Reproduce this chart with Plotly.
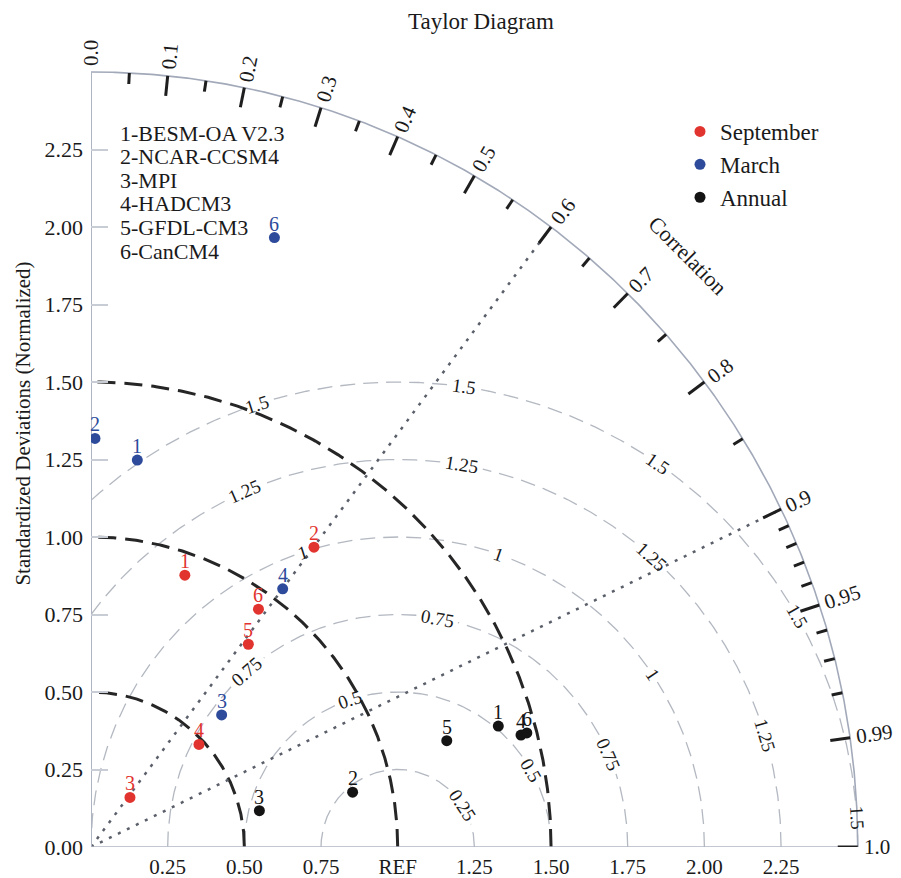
import numpy as np
import plotly.graph_objects as go

# ---------------- data ----------------
models = ["1-BESM-OA V2.3", "2-NCAR-CCSM4", "3-MPI", "4-HADCM3", "5-GFDL-CM3", "6-CanCM4"]

sep_ids = ["1", "2", "3", "4", "5", "6"]
sep_x = [0.306, 0.727, 0.127, 0.352, 0.513, 0.546]
sep_y = [0.877, 0.967, 0.160, 0.331, 0.654, 0.767]

mar_ids = ["1", "2", "3", "4", "6"]
mar_x = [0.151, 0.013, 0.426, 0.625, 0.598]
mar_y = [1.248, 1.318, 0.426, 0.833, 1.966]

ann_ids = ["1", "2", "3", "4", "5", "6"]
ann_x = [1.328, 0.853, 0.549, 1.402, 1.160, 1.421]
ann_y = [0.390, 0.177, 0.117, 0.361, 0.343, 0.368]

std_arcs = [0.5, 1.0, 1.5]
rms_levels = [0.25, 0.5, 0.75, 1.0, 1.25, 1.5]
rms_texts = ["0.25", "0.5", "0.75", "1", "1.25", "1.5"]
rms_label_angles = [[33], [29.6, 108], [23.5, 80, 131], [33.8, 70.8, 108],
                    [16.7, 48.6, 80.4, 113.6], [3.6, 29.7, 55.6, 81.7, 107.8]]
corr_lines = [0.6, 0.9]
corr_major = [0.1, 0.2, 0.3, 0.4, 0.5, 0.6, 0.7, 0.8, 0.9, 0.95, 0.99, 1.0]
corr_minor = [0.05, 0.15, 0.25, 0.35, 0.45, 0.55, 0.65, 0.75, 0.85,
              0.91, 0.92, 0.93, 0.94, 0.96, 0.97, 0.98]
corr_label_vals = [0.0, 0.1, 0.2, 0.3, 0.4, 0.5, 0.6, 0.7, 0.8, 0.9, 0.95, 0.99, 1.0]
corr_label_text = ["0.0", "0.1", "0.2", "0.3", "0.4", "0.5", "0.6", "0.7", "0.8",
                   "0.9", "0.95", "0.99", "1.0"]
y_tick_vals = [0.0, 0.25, 0.5, 0.75, 1.0, 1.25, 1.5, 1.75, 2.0, 2.25]
x_tick_vals = [0.25, 0.5, 0.75, 1.0, 1.25, 1.5, 1.75, 2.0, 2.25]
x_tick_text = ["0.25", "0.50", "0.75", "REF", "1.25", "1.50", "1.75", "2.00", "2.25"]
R_MAX = 2.5
REF = 1.0

# ---------------- styling / geometry ----------------
W, H = 901, 878
X0, Y0 = 91, 847          # pixel of origin
SX, SY = 306.7, 310.0     # pixels per unit
SERIF = "Liberation Serif"
RED, BLUE, BLACK = "#e2342f", "#2d4a9b", "#141414"
TXT = "#1a1a1a"


def px2x(px):
    return (px - X0) / SX


def py2y(py):
    return (Y0 - py) / SY


fig = go.Figure()


def add_line(xs, ys, color, width, dash=None):
    fig.add_trace(go.Scatter(x=xs, y=ys, mode="lines", hoverinfo="skip", showlegend=False,
                             line=dict(color=color, width=width, dash=dash)))


# RMS arcs (centred on REF) with gaps for labels
for r, txt, angs in zip(rms_levels, rms_texts, rms_label_angles):
    tmax = np.pi if r <= REF else np.arccos(-REF / r)
    t = np.linspace(0, tmax, 600)
    xs = REF + r * np.cos(t)
    ys = r * np.sin(t)
    tlen = 9.5 * sum(ch.isdigit() for ch in txt) + 4.75 * txt.count(".")
    half = (tlen / 2 + 4) / (r * SX)
    mask = np.zeros_like(t, dtype=bool)
    for a in angs:
        mask |= np.abs(t - np.radians(a)) < half
    xs = np.where(mask, np.nan, xs)
    ys = np.where(mask, np.nan, ys)
    add_line(xs, ys, "#b3b8c1", 1.3, "15px,8px")
    for a in angs:
        ar = np.radians(a)
        fig.add_annotation(x=REF + r * np.cos(ar), y=r * np.sin(ar), text=txt, showarrow=False,
                           textangle=90 - a, font=dict(family=SERIF, size=19, color=TXT),
                           xanchor="center", yanchor="middle")

# Std-dev arcs (black dashed)
for r in std_arcs:
    t = np.linspace(0, np.pi / 2, 300)
    add_line(r * np.cos(t), r * np.sin(t), "#262626", 3, "18px,9px")

# Correlation dotted lines
for c in corr_lines:
    th = np.arccos(c)
    add_line([0, R_MAX * np.cos(th)], [0, R_MAX * np.sin(th)], "#5a5f6a", 2.5, "3px,7px")

# Outer arc and axis lines
t = np.linspace(0, np.pi / 2, 400)
add_line(R_MAX * np.cos(t), R_MAX * np.sin(t), "#a2a9b9", 1.6)
add_line([0, 0], [0, R_MAX], "#aeb4c2", 2)
add_line([0, R_MAX], [0, 0], "#aeb4c2", 1.6)

# Correlation ticks
tx, ty = [], []
for vals, ln in ((corr_major, 20), (corr_minor, 11)):
    for c in vals:
        th = np.arccos(c)
        tx += [R_MAX * np.cos(th), R_MAX * np.cos(th) - ln * np.cos(th) / SX, None]
        ty += [R_MAX * np.sin(th), R_MAX * np.sin(th) - ln * np.sin(th) / SY, None]
add_line(tx, ty, "#1e1e1e", 3)

# Correlation labels
for c, txt in zip(corr_label_vals, corr_label_text):
    th = np.arccos(c)
    tlen = 10.5 * sum(ch.isdigit() for ch in txt) + 5.25
    d = 6 + tlen / 2
    fig.add_annotation(x=R_MAX * np.cos(th) + d * np.cos(th) / SX,
                       y=R_MAX * np.sin(th) + d * np.sin(th) / SY,
                       text=txt, showarrow=False, textangle=-np.degrees(th),
                       font=dict(family=SERIF, size=21, color=TXT),
                       xanchor="center", yanchor="middle")

fig.add_annotation(x=px2x(688), y=py2y(255), text="Correlation", showarrow=False, textangle=45.2,
                   font=dict(family=SERIF, size=22, color=TXT))

# Data points
for name, xs, ys, ids, col in (("September", sep_x, sep_y, sep_ids, RED),
                                ("March", mar_x, mar_y, mar_ids, BLUE),
                                ("Annual", ann_x, ann_y, ann_ids, BLACK)):
    fig.add_trace(go.Scatter(x=xs, y=ys, mode="markers", name=name, legendgroup=name,
                             marker=dict(color=col, size=11, line=dict(width=0)),
                             hovertemplate=name + " %{x:.2f}, %{y:.2f}<extra></extra>"))
    for x, y, lab in zip(xs, ys, ids):
        fig.add_annotation(x=x, y=y, text=lab, showarrow=False, yshift=14,
                           font=dict(family=SERIF, size=20, color=col))

# Model list
for i, m in enumerate(models):
    fig.add_annotation(x=px2x(118), y=py2y(133 + i * 23.6), text=m, showarrow=False,
                       xanchor="left", yanchor="middle",
                       font=dict(family=SERIF, size=22, color=TXT))

fig.update_layout(
    width=W, height=H,
    margin=dict(l=X0, r=W - X0 - 810, t=0, b=H - Y0, autoexpand=False),
    paper_bgcolor="white", plot_bgcolor="white",
    font=dict(family=SERIF, color=TXT),
    title=dict(text="Taylor Diagram", x=481 / W, y=1 - 21 / H, xanchor="center", yanchor="middle",
               font=dict(family=SERIF, size=23, color=TXT)),
    xaxis=dict(range=[0, 810 / SX], showgrid=False, zeroline=False, showline=False,
               tickvals=x_tick_vals, ticktext=x_tick_text, ticks="", ticklabelstandoff=5,
               tickfont=dict(family=SERIF, size=21, color=TXT), fixedrange=True),
    yaxis=dict(range=[0, Y0 / SY], showgrid=False, zeroline=False, showline=False,
               tickvals=y_tick_vals, tickformat=".2f", ticks="inside", ticklen=17,
               tickcolor="#c8ccd4", tickwidth=1.5, ticklabelstandoff=7,
               tickfont=dict(family=SERIF, size=22, color=TXT),
               title=dict(text="Standardized Deviations (Normalized)", standoff=8,
                          font=dict(family=SERIF, size=21, color=TXT)),
               fixedrange=True),
    legend=dict(x=(680 - X0) / 810, y=(Y0 - 110) / Y0, xanchor="left", yanchor="top",
                bgcolor="rgba(0,0,0,0)", font=dict(family=SERIF, size=23, color=TXT),
                tracegroupgap=0, traceorder="grouped"),
)

fig.write_html("out.html")
